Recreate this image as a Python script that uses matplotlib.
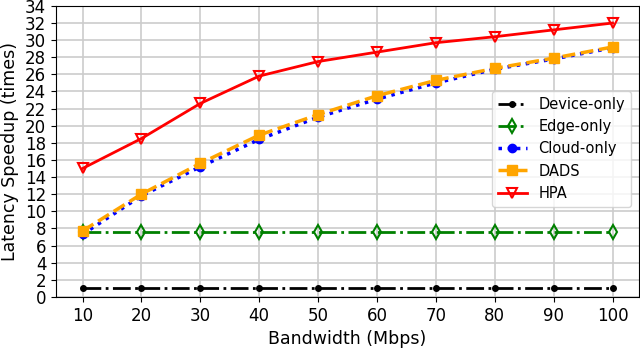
import numpy as np
import matplotlib.pyplot as plt

bandwidth = [10, 20, 30, 40, 50, 60, 70, 80, 90, 100]
device_only = [1, 1, 1, 1, 1, 1, 1, 1, 1, 1]
edge_only = [7.6, 7.6, 7.6, 7.6, 7.6, 7.6, 7.6, 7.6, 7.6, 7.6]
cloud_only = [7.3, 11.8, 15.2, 18.4, 21.0, 23.1, 25.0, 26.6, 27.8, 29.1]
dads = [7.7, 12.0, 15.6, 18.9, 21.3, 23.5, 25.3, 26.7, 27.9, 29.2]
hpa = [15.0, 18.5, 22.6, 25.8, 27.5, 28.6, 29.7, 30.4, 31.2, 32.0]

fig = plt.figure(figsize=(6.4, 3.48), dpi=100)
ax = fig.add_axes([0.0875, 0.147, 0.911, 0.836])

ax.plot(bandwidth, device_only, color='black', linestyle='-.', linewidth=2,
        marker='o', markersize=4, label='Device-only')
ax.plot(bandwidth, edge_only, color='green', linestyle='-.', linewidth=2,
        marker='d', markersize=7, markerfacecolor='none', markeredgewidth=1.5,
        label='Edge-only')
ax.plot(bandwidth, cloud_only, color='blue', linestyle=':', linewidth=2.5,
        marker='o', markersize=6, label='Cloud-only')
ax.plot(bandwidth, dads, color='orange', linestyle='--', linewidth=2.5,
        marker='s', markersize=7, label='DADS')
ax.plot(bandwidth, hpa, color='red', linestyle='-', linewidth=2,
        marker='v', markersize=7, markerfacecolor='none', markeredgewidth=1.5,
        label='HPA')

ax.set_ylim(0, 34)
ax.set_yticks(np.arange(0, 35, 2))
ax.set_xticks(bandwidth)
ax.tick_params(labelsize=12)
ax.grid(True, color='#cccccc', linewidth=1.2)
ax.set_xlabel('Bandwidth (Mbps)', fontsize=12.5)
ax.set_ylabel('Latency Speedup (times)', fontsize=12.5)
ax.legend(loc='lower right', bbox_to_anchor=(0.986, 0.31), borderaxespad=0,
          fontsize=10.5)

fig.savefig('out.png', dpi=100)
